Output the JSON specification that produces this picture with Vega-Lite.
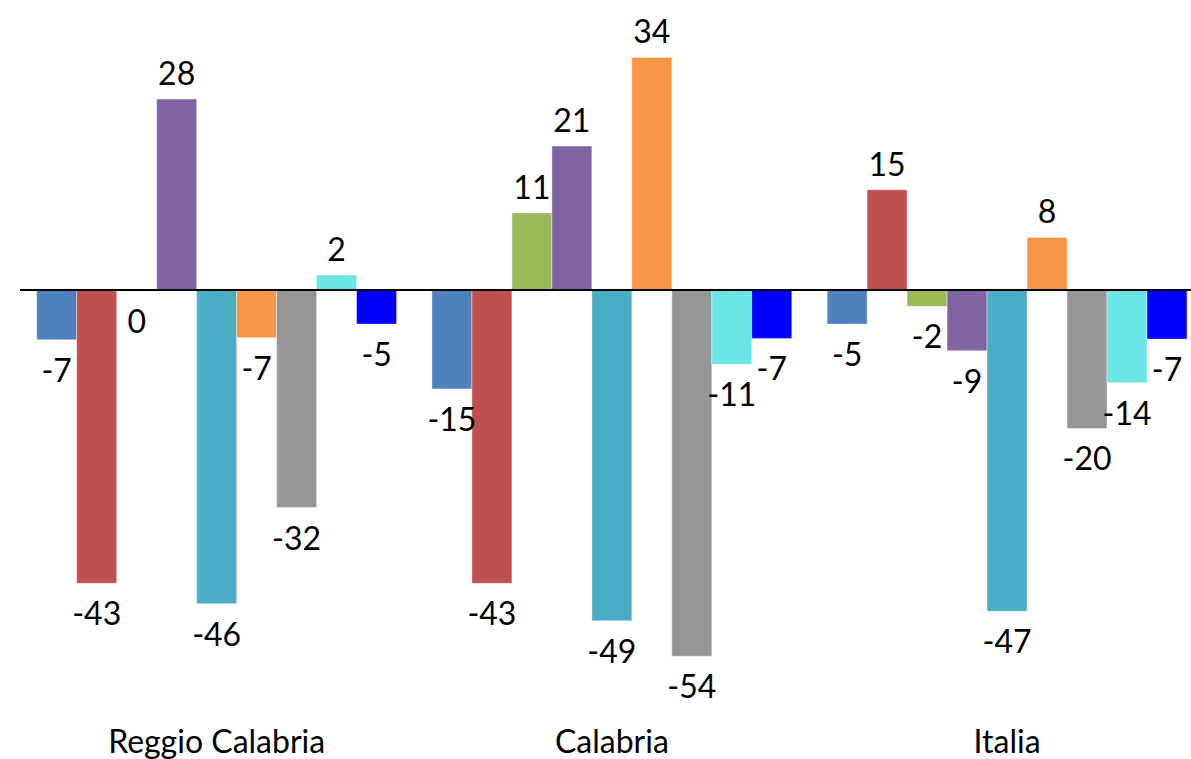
{
  "$schema": "https://vega.github.io/schema/vega-lite/v6.json",
  "width": 1171,
  "height": 720,
  "padding": {"left": 20, "top": 0, "right": 0, "bottom": 39},
  "autosize": {"type": "none"},
  "background": "white",
  "config": {"view": {"stroke": null}, "font": "Lato"},
  "data": {
    "values": [
      {"area": "Reggio Calabria", "series": "s1", "value": -7.3, "label": "-7"},
      {"area": "Reggio Calabria", "series": "s2", "value": -43.0, "label": "-43"},
      {"area": "Reggio Calabria", "series": "s3", "value": -0.2, "label": "0"},
      {"area": "Reggio Calabria", "series": "s4", "value": 28.0, "label": "28"},
      {"area": "Reggio Calabria", "series": "s5", "value": -46.0, "label": "-46"},
      {"area": "Reggio Calabria", "series": "s6", "value": -7.0, "label": "-7"},
      {"area": "Reggio Calabria", "series": "s7", "value": -31.9, "label": "-32"},
      {"area": "Reggio Calabria", "series": "s8", "value": 2.2, "label": "2"},
      {"area": "Reggio Calabria", "series": "s9", "value": -5.0, "label": "-5"},
      {"area": "Calabria", "series": "s1", "value": -14.5, "label": "-15"},
      {"area": "Calabria", "series": "s2", "value": -43.0, "label": "-43"},
      {"area": "Calabria", "series": "s3", "value": 11.3, "label": "11"},
      {"area": "Calabria", "series": "s4", "value": 21.1, "label": "21"},
      {"area": "Calabria", "series": "s5", "value": -48.5, "label": "-49"},
      {"area": "Calabria", "series": "s6", "value": 34.1, "label": "34"},
      {"area": "Calabria", "series": "s7", "value": -53.7, "label": "-54"},
      {"area": "Calabria", "series": "s8", "value": -10.9, "label": "-11"},
      {"area": "Calabria", "series": "s9", "value": -7.1, "label": "-7"},
      {"area": "Italia", "series": "s1", "value": -5.0, "label": "-5"},
      {"area": "Italia", "series": "s2", "value": 14.7, "label": "15"},
      {"area": "Italia", "series": "s3", "value": -2.4, "label": "-2"},
      {"area": "Italia", "series": "s4", "value": -8.9, "label": "-9"},
      {"area": "Italia", "series": "s5", "value": -47.1, "label": "-47"},
      {"area": "Italia", "series": "s6", "value": 7.7, "label": "8"},
      {"area": "Italia", "series": "s7", "value": -20.3, "label": "-20"},
      {"area": "Italia", "series": "s8", "value": -13.6, "label": "-14"},
      {"area": "Italia", "series": "s9", "value": -7.2, "label": "-7"}
    ]
  },
  "encoding": {
    "x": {
      "field": "area",
      "type": "nominal",
      "sort": ["Reggio Calabria", "Calabria", "Italia"],
      "scale": {"paddingInner": 0.0894, "paddingOuter": 0.0262, "align": 0.807},
      "axis": {
        "title": null,
        "domain": false,
        "ticks": false,
        "labelAngle": 0,
        "labelFont": "Lato",
        "labelFontSize": 32,
        "labelColor": "#000000",
        "labelPadding": 7,
        "labelBaseline": "top",
        "labelLimit": 0
      }
    },
    "xOffset": {
      "field": "series",
      "type": "nominal",
      "sort": ["s1", "s2", "s3", "s4", "s5", "s6", "s7", "s8", "s9"],
      "scale": {"paddingInner": 0, "paddingOuter": 0}
    },
    "y": {
      "field": "value",
      "type": "quantitative",
      "scale": {"domain": [-63.05, 42.52], "nice": false, "zero": false},
      "axis": null
    }
  },
  "layer": [
    {
      "mark": {"type": "bar", "stroke": "white", "strokeOpacity": 0.4, "strokeWidth": 1},
      "encoding": {
        "y2": {"datum": 0},
        "color": {
          "field": "series",
          "type": "nominal",
          "scale": {
            "domain": ["s1", "s2", "s3", "s4", "s5", "s6", "s7", "s8", "s9"],
            "range": ["#4F81BD", "#C0504D", "#9BBB59", "#8064A2", "#4BACC6", "#F79646", "#969696", "#6BE5E8", "#0000FF"]
          },
          "legend": null
        }
      }
    },
    {
      "mark": {"type": "rule", "color": "#000000", "strokeWidth": 2},
      "encoding": {"x": {"value": 0}, "x2": {"value": 1171}, "y": {"datum": 0}, "xOffset": null}
    },
    {
      "transform": [{"filter": "datum.value >= 0"}],
      "mark": {"type": "text", "baseline": "alphabetic", "align": "center", "dy": -14, "fontSize": 32, "font": "Lato", "color": "#000000"},
      "encoding": {"text": {"field": "label"}}
    },
    {
      "transform": [{"filter": "datum.value < 0"}],
      "mark": {"type": "text", "baseline": "alphabetic", "align": "center", "dy": 42, "fontSize": 32, "font": "Lato", "color": "#000000"},
      "encoding": {"text": {"field": "label"}}
    }
  ]
}
